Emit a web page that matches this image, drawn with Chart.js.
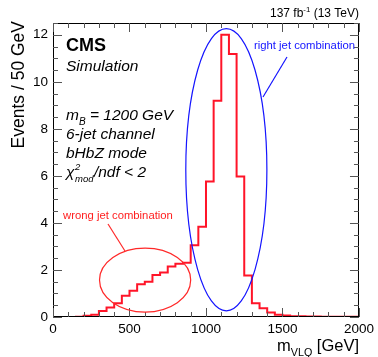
<!DOCTYPE html>
<html>
<head>
<meta charset="utf-8">
<script src="https://cdn.jsdelivr.net/npm/chart.js@4"></script>
<style>
  html, body { margin: 0; padding: 0; background: #fff; }
  #wrap { width: 378px; height: 357px; }
</style>
</head>
<body>
<div id="wrap"><canvas id="myChart" width="378" height="357"></canvas></div>
<script>
// bin edges in GeV (50 GeV bins) and events per bin
var binEdges = [0, 50, 100, 150, 200, 250, 300, 350, 400, 450, 500, 550, 600, 650, 700, 750, 800, 850, 900, 950,
  1000, 1050, 1100, 1150, 1200, 1250, 1300, 1350, 1400, 1450, 1500, 1550, 1600, 1650, 1700, 1750, 1800, 1850, 1900, 1950, 2000];
var events = [0, 0, 0, 0.01, 0.05, 0.1, 0.25, 0.4, 0.58, 0.9, 1.12, 1.39, 1.5, 1.79, 1.89, 2.15, 2.26, 2.31, 3.05, 3.84,
  5.76, 9.19, 12.0, 11.18, 5.97, 1.76, 0.58, 0.37, 0.19, 0.1, 0.06, 0.03, 0.03, 0.02, 0.02, 0.01, 0.01, 0.01, 0.01, 0.01];
var xTickLabels = [0, 500, 1000, 1500, 2000];
var yTickLabels = [0, 2, 4, 6, 8, 10, 12];

// ellipses: center x, center y, half width (GeV), half height (events)
var wrongEllipse = { x: 602, y: 1.57, rx: 298, ry: 1.36 };
var rightEllipse = { x: 1133, y: 6.26, rx: 265, ry: 6.0 };

// step line: each point opens its bin, last point closes the last bin
var punkte = [];
for (var i = 0; i < events.length; i++) {
  punkte.push({ x: binEdges[i], y: events[i] });
}
punkte.push({ x: binEdges[binEdges.length - 1], y: events[events.length - 1] });

var font = "'Liberation Sans', Arial, sans-serif";

// draws text pieces: [text, "n" | "sup" | "sub"]
function drawRich(ctx, parts, x, y, size, style, align) {
  var w = 0;
  parts.forEach(function (p) {
    var s = p[1] == "n" ? size : size * 0.65;
    ctx.font = style + " " + s + "px " + font;
    w += ctx.measureText(p[0]).width;
  });
  var cx = align == "right" ? x - w : x;
  ctx.textAlign = "left";
  ctx.textBaseline = "alphabetic";
  parts.forEach(function (p) {
    var s = p[1] == "n" ? size : size * 0.65;
    ctx.font = style + " " + s + "px " + font;
    var dy = p[1] == "sup" ? -size * 0.45 : p[1] == "sub" ? size * 0.3 : 0;
    ctx.fillText(p[0], cx, y + dy);
    cx += ctx.measureText(p[0]).width;
  });
}

var cmsPlugin = {
  id: "cms",
  afterDraw: function (chart) {
    var ctx = chart.ctx;
    var a = chart.chartArea;
    var xs = chart.scales.x, ys = chart.scales.y;
    ctx.save();

    // frame
    ctx.strokeStyle = "#000";
    ctx.lineWidth = 1;
    ctx.strokeRect(a.left + 0.5, a.top + 0.5, a.right - a.left - 1, a.bottom - a.top - 1);

    // inward ticks on all sides
    ctx.strokeStyle = "#555";
    ctx.beginPath();
    for (var gx = 0; gx <= 2000; gx += 100) {
      var px = Math.round(xs.getPixelForValue(gx)) + 0.5;
      var len = gx % 500 == 0 ? 9 : 5;
      ctx.moveTo(px, a.bottom); ctx.lineTo(px, a.bottom - len);
      ctx.moveTo(px, a.top); ctx.lineTo(px, a.top + len);
    }
    for (var gy = 0; gy <= 12.5; gy += 0.5) {
      var py = Math.round(ys.getPixelForValue(gy)) + 0.5;
      var l2 = gy % 2 == 0 ? 9 : 5;
      ctx.moveTo(a.left, py); ctx.lineTo(a.left + l2, py);
      ctx.moveTo(a.right, py); ctx.lineTo(a.right - l2, py);
    }
    ctx.stroke();

    // ellipses
    ctx.lineWidth = 1.2;
    ctx.strokeStyle = "rgb(255,40,40)";
    ctx.beginPath();
    ctx.ellipse(xs.getPixelForValue(wrongEllipse.x), ys.getPixelForValue(wrongEllipse.y),
      xs.getPixelForValue(wrongEllipse.rx) - xs.getPixelForValue(0),
      ys.getPixelForValue(0) - ys.getPixelForValue(wrongEllipse.ry), 0, 0, Math.PI * 2);
    ctx.stroke();
    ctx.beginPath();
    ctx.moveTo(108, 224); ctx.lineTo(125, 251);
    ctx.stroke();

    ctx.strokeStyle = "rgb(20,20,255)";
    ctx.beginPath();
    ctx.ellipse(xs.getPixelForValue(rightEllipse.x), ys.getPixelForValue(rightEllipse.y),
      xs.getPixelForValue(rightEllipse.rx) - xs.getPixelForValue(0),
      ys.getPixelForValue(0) - ys.getPixelForValue(rightEllipse.ry), 0, 0, Math.PI * 2);
    ctx.stroke();
    ctx.beginPath();
    ctx.moveTo(287, 57); ctx.lineTo(263, 97);
    ctx.stroke();

    // annotation texts
    ctx.fillStyle = "rgb(20,20,255)";
    ctx.font = "11.3px " + font;
    ctx.textAlign = "left";
    ctx.textBaseline = "alphabetic";
    ctx.fillText("right jet combination", 254, 49);
    ctx.fillStyle = "rgb(255,30,30)";
    ctx.fillText("wrong jet combination", 63, 219);

    // labels
    ctx.fillStyle = "#000";
    ctx.font = "bold 18px " + font;
    ctx.fillText("CMS", 66, 51);
    ctx.font = "italic 15.5px " + font;
    ctx.fillText("Simulation", 66, 71);

    drawRich(ctx, [["m", "n"], ["B", "sub"], [" = 1200 GeV", "n"]], 66, 120, 15.5, "italic", "left");
    ctx.font = "italic 15.5px " + font;
    ctx.fillText("6-jet channel", 66, 139);
    ctx.fillText("bHbZ mode", 66, 158);
    // chi2_mod / ndf < 2
    ctx.fillText("\u03c7", 66, 177);
    var cw = ctx.measureText("\u03c7").width;
    ctx.font = "italic 9.5px " + font;
    ctx.fillText("2", 66 + cw + 0.5, 170);
    ctx.fillText("mod", 66 + cw + 0.5, 182);
    var mw = ctx.measureText("mod").width;
    ctx.font = "italic 15.5px " + font;
    ctx.fillText("/ndf < 2", 66 + cw + mw + 1, 177);

    drawRich(ctx, [["137 fb", "n"], ["-1", "sup"], [" (13 TeV)", "n"]], a.right, 17, 12, "normal", "right");

    // axis titles
    drawRich(ctx, [["m", "n"], ["VLQ", "sub"], [" [GeV]", "n"]], a.right, 351, 16.5, "normal", "right");
    ctx.save();
    ctx.translate(24, 21);
    ctx.rotate(-Math.PI / 2);
    ctx.font = "17.5px " + font;
    ctx.textAlign = "right";
    ctx.fillText("Events / 50 GeV", 0, 0);
    ctx.restore();

    ctx.restore();
  }
};

new Chart("myChart", {
  type: "line",
  data: {
    datasets: [
      {
        data: punkte,
        stepped: "before",
        borderColor: "rgb(255,20,40)",
        borderWidth: 2,
        pointRadius: 0,
        fill: false,
      },
    ],
  },
  options: {
    responsive: false,
    animation: false,
    layout: { padding: { top: 23, right: 16, left: 0, bottom: 0 } },
    plugins: {
      legend: false,
      tooltip: { enabled: false },
    },
    scales: {
      x: {
        type: "linear",
        min: 0,
        max: 2000,
        afterBuildTicks: function (s) { s.ticks = xTickLabels.map(function (v) { return { value: v }; }); },
        afterFit: function (s) { s.height = 40; },
        grid: { display: false, drawTicks: false },
        border: { display: false },
        ticks: {
          color: "#000", font: { family: font, size: 13.5 }, padding: 4, maxRotation: 0,
          callback: function (v) { return String(v); },
        },
      },
      y: {
        min: 0,
        max: 12.5,
        afterBuildTicks: function (s) { s.ticks = yTickLabels.map(function (v) { return { value: v }; }); },
        afterFit: function (s) { s.width = 53; },
        grid: { display: false, drawTicks: false },
        border: { display: false },
        ticks: { color: "#000", font: { family: font, size: 13.5 }, padding: 5 },
      },
    },
  },
  plugins: [cmsPlugin],
});
</script>
</body>
</html>
